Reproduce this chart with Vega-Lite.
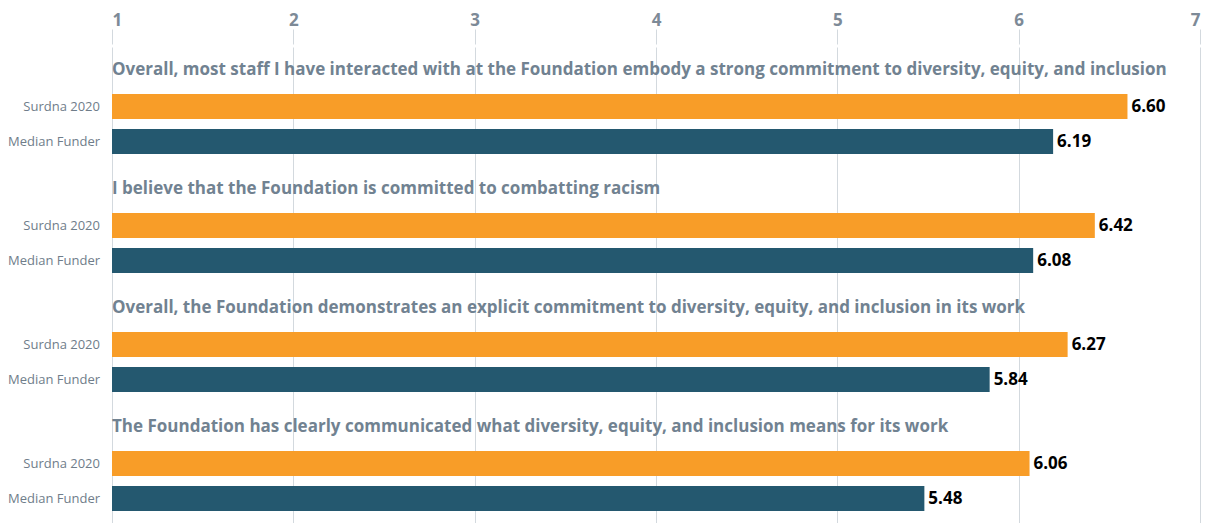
{
  "$schema": "https://vega.github.io/schema/vega-lite/v6.json",
  "width": 1088,
  "height": 476,
  "autosize": "none",
  "padding": {"left": 112, "top": 47, "right": 9, "bottom": 0},
  "background": "white",
  "config": {"view": {"stroke": null}, "font": "Open Sans"},
  "data": {
    "values": [
      {"question": "Overall, most staff I have interacted with at the Foundation embody a strong commitment to diversity, equity, and inclusion", "series": "Surdna 2020", "value": 6.60},
      {"question": "Overall, most staff I have interacted with at the Foundation embody a strong commitment to diversity, equity, and inclusion", "series": "Median Funder", "value": 6.19},
      {"question": "I believe that the Foundation is committed to combatting racism", "series": "Surdna 2020", "value": 6.42},
      {"question": "I believe that the Foundation is committed to combatting racism", "series": "Median Funder", "value": 6.08},
      {"question": "Overall, the Foundation demonstrates an explicit commitment to diversity, equity, and inclusion in its work", "series": "Surdna 2020", "value": 6.27},
      {"question": "Overall, the Foundation demonstrates an explicit commitment to diversity, equity, and inclusion in its work", "series": "Median Funder", "value": 5.84},
      {"question": "The Foundation has clearly communicated what diversity, equity, and inclusion means for its work", "series": "Surdna 2020", "value": 6.06},
      {"question": "The Foundation has clearly communicated what diversity, equity, and inclusion means for its work", "series": "Median Funder", "value": 5.48}
    ]
  },
  "encoding": {
    "y": {"field": "question", "type": "nominal", "sort": null, "axis": null, "scale": {"paddingInner": 0, "paddingOuter": 0}}
  },
  "layer": [
    {
      "mark": {"type": "bar"},
      "encoding": {
        "x": {"field": "value", "type": "quantitative", "scale": {"domain": [1, 7], "zero": false, "nice": false},
          "axis": {"orient": "top", "values": [1, 2, 3, 4, 5, 6, 7], "title": null, "domain": false, "ticks": true, "tickSize": 15, "offset": 3, "tickColor": "#d3d9de", "gridColor": "#d3d9de", "grid": true, "labelFont": "Open Sans", "labelFontWeight": "bold", "labelFontSize": 17, "labelColor": "#7d8a97", "labelPadding": 0, "format": "d"}},
        "x2": {"datum": 1},
        "yOffset": {"field": "series", "type": "nominal", "sort": ["Surdna 2020", "Median Funder"], "scale": {"paddingInner": 0.2857, "paddingOuter": 0.843, "align": 0.797}},
        "color": {"field": "series", "type": "nominal", "scale": {"domain": ["Surdna 2020", "Median Funder"], "range": ["#f89d28", "#24586f"]}, "legend": null}
      }
    },
    {
      "mark": {"type": "text", "align": "left", "baseline": "middle", "dx": 4, "fontWeight": "bold", "fontSize": 17, "color": "#000000"},
      "encoding": {
        "x": {"field": "value", "type": "quantitative"},
        "yOffset": {"field": "series", "type": "nominal", "sort": ["Surdna 2020", "Median Funder"]},
        "text": {"field": "value", "type": "quantitative", "format": ".2f"}
      }
    },
    {
      "mark": {"type": "text", "align": "right", "baseline": "middle", "dx": -12, "fontSize": 13, "color": "#6f7d8a"},
      "encoding": {
        "x": {"datum": 1},
        "yOffset": {"field": "series", "type": "nominal", "sort": ["Surdna 2020", "Median Funder"]},
        "text": {"field": "series", "type": "nominal"}
      }
    },
    {
      "transform": [{"filter": "datum.series === 'Surdna 2020'"}],
      "mark": {"type": "text", "align": "left", "baseline": "middle", "dy": 23, "fontWeight": "bold", "fontSize": 17, "color": "#718291"},
      "encoding": {
        "x": {"datum": 1},
        "y": {"field": "question", "type": "nominal", "sort": null, "bandPosition": 0},
        "text": {"field": "question", "type": "nominal"}
      }
    }
  ]
}
